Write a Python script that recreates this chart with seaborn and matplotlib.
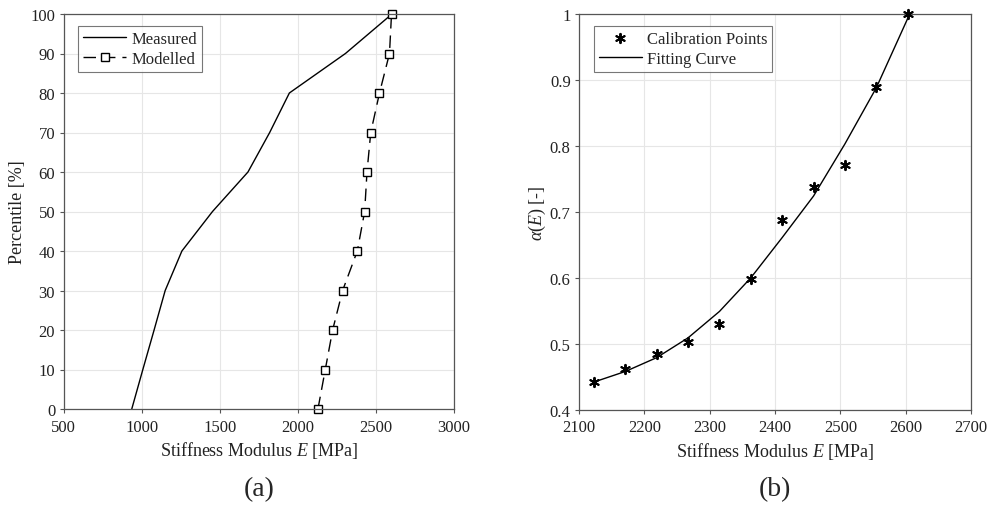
import matplotlib
matplotlib.use("Agg")
import matplotlib.pyplot as plt
import seaborn as sns
import pandas as pd

# ---- data ----
percentiles = [0, 10, 20, 30, 40, 50, 60, 70, 80, 90, 100]
measured_E = [937, 1008, 1080, 1151, 1258, 1454, 1681, 1820, 1946, 2305, 2603]
modelled_E = [2129, 2176, 2223, 2287, 2381, 2428, 2443, 2467, 2523, 2587, 2600]

calib_E = [2123, 2171, 2219, 2267, 2315, 2363, 2411, 2459, 2507, 2555, 2603]
calib_alpha = [0.442, 0.462, 0.485, 0.503, 0.530, 0.598, 0.688, 0.737, 0.771, 0.889, 1.000]
fit_alpha = [0.442, 0.458, 0.479, 0.509, 0.549, 0.600, 0.661, 0.724, 0.803, 0.888, 0.993]

left_xticks = [500, 1000, 1500, 2000, 2500, 3000]
left_yticks = [0, 10, 20, 30, 40, 50, 60, 70, 80, 90, 100]
right_xticks = [2100, 2200, 2300, 2400, 2500, 2600, 2700]
right_yticks = [0.4, 0.5, 0.6, 0.7, 0.8, 0.9, 1.0]
right_yticklabels = ["0.4", "0.5", "0.6", "0.7", "0.8", "0.9", "1"]

sns.set_theme(style="white")
plt.rcParams["font.family"] = ["Liberation Serif", "DejaVu Serif"]
plt.rcParams["mathtext.fontset"] = "custom"
plt.rcParams["mathtext.rm"] = "Liberation Serif"
plt.rcParams["mathtext.it"] = "Liberation Serif:italic"

fig = plt.figure(figsize=(9.93, 5.10), dpi=100)
axL = fig.add_axes([63.5 / 993, 100 / 510, 390.5 / 993, 395 / 510])
axR = fig.add_axes([579 / 993, 99.3 / 510, 392 / 993, 395.7 / 510])

spine_c = "#555555"
grid_c = "#e6e6e6"
txt_c = "#222222"
FS = 12

df_meas = pd.DataFrame({"E": measured_E, "P": percentiles})
df_mod = pd.DataFrame({"E": modelled_E, "P": percentiles})
sns.lineplot(data=df_meas, x="E", y="P", sort=False, ax=axL, color="black",
             lw=1.0, label="Measured")
sns.lineplot(data=df_mod, x="E", y="P", sort=False, ax=axL, color="black",
             lw=1.0, linestyle=(0, (9, 5)), marker="s", markersize=6,
             markerfacecolor="white", markeredgecolor="black", markeredgewidth=1.0,
             label="Modelled")

df_cal = pd.DataFrame({"E": calib_E, "a": calib_alpha})
df_fit = pd.DataFrame({"E": calib_E, "a": fit_alpha})
sns.scatterplot(data=df_cal, x="E", y="a", ax=axR, marker=(6, 2, 0), s=45,
                color="black", linewidth=1.4, edgecolor="black", zorder=3,
                label="Calibration Points")
sns.lineplot(data=df_fit, x="E", y="a", sort=False, ax=axR, color="black",
             lw=1.0, label="Fitting Curve")

for ax in (axL, axR):
    for art in list(ax.lines) + list(ax.collections):
        art.set_clip_on(False)
    ax.grid(True, color=grid_c, lw=0.8)
    ax.set_axisbelow(True)
    for s in ax.spines.values():
        s.set_color(spine_c)
        s.set_linewidth(0.9)
        s.set_visible(True)
    ax.tick_params(direction="out", length=3, width=0.8, color=spine_c,
                   labelsize=FS, labelcolor=txt_c, top=False, right=False,
                   bottom=True, left=True)
    ax.tick_params(axis="x", pad=4)
    ax.tick_params(axis="y", pad=3)

axL.set_xlim(500, 3000)
axL.set_ylim(0, 100)
axL.set_xticks(left_xticks)
axL.set_yticks(left_yticks)
axL.set_xlabel("Stiffness Modulus $E$ [MPa]", fontsize=13, color=txt_c, labelpad=3)
axL.set_ylabel("Percentile [%]", fontsize=13, color=txt_c, labelpad=3)

axR.set_xlim(2100, 2700)
axR.set_ylim(0.4, 1.0)
axR.set_xticks(right_xticks)
axR.set_yticks(right_yticks)
axR.set_yticklabels(right_yticklabels)
axR.set_xlabel("Stiffness Modulus $E$ [MPa]", fontsize=13, color=txt_c, labelpad=3)
axR.set_ylabel(r"$\alpha(E)$ [-]", fontsize=13, color=txt_c, labelpad=1)

for ax in (axL, axR):
    leg = ax.legend(loc="upper left", bbox_to_anchor=(0.037, 0.97), fontsize=FS,
                    frameon=True, fancybox=False, edgecolor="#555555",
                    handlelength=2.6, handletextpad=0.3, borderpad=0.3,
                    labelspacing=0.25, borderaxespad=0.0)
    leg.get_frame().set_linewidth(0.8)

fig.text((63.5 + 454) / 2 / 993, 1 - 490 / 510, "(a)", ha="center", va="center", fontsize=20)
fig.text((579 + 971) / 2 / 993, 1 - 490 / 510, "(b)", ha="center", va="center", fontsize=20)

fig.savefig("out.png", dpi=100)
